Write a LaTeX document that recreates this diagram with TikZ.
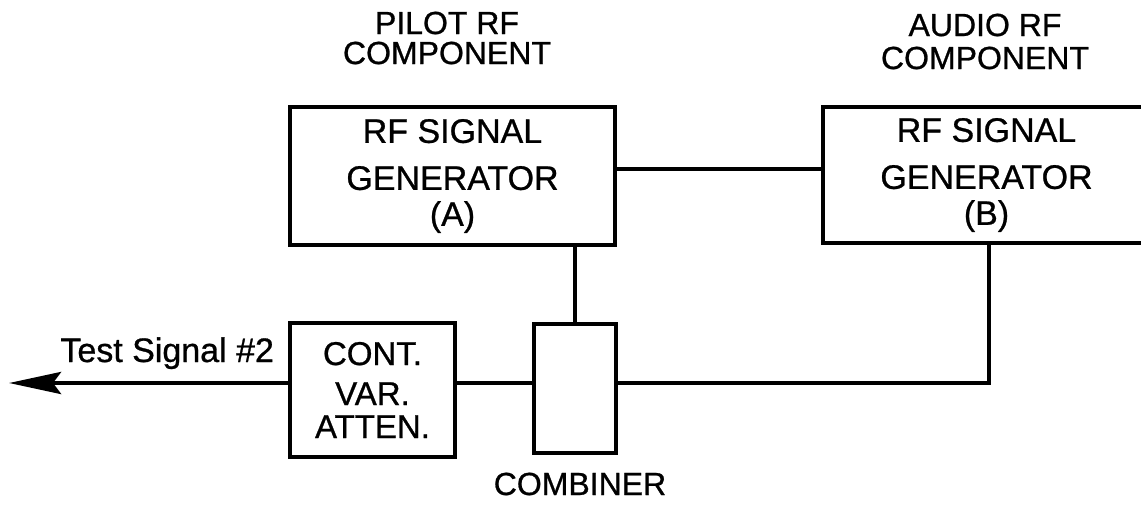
\documentclass[tikz,border=0pt]{standalone}
\usepackage{fontspec}
\setmainfont{Liberation Sans}[FakeBold=0.8]
\usetikzlibrary{arrows.meta}
\begin{document}
\begin{tikzpicture}[x=0.5pt,y=-0.5pt,
  blk/.style={draw,line width=2.3pt,inner sep=0pt,align=center,font=\fontsize{17}{18}\selectfont},
  wire/.style={line width=2.3pt},
  lbl/.style={inner sep=0pt,align=center,font=\fontsize{16}{15}\selectfont}]
\useasboundingbox (0,0) rectangle (1141,504);
% boxes
\node[blk,minimum width=162.5pt,minimum height=69pt] (A) at (452.5,176) {RF SIGNAL\\[5.5pt]GENERATOR\\(A)};
\node[blk,minimum width=163.5pt,minimum height=68pt] (B) at (986.5,175) {RF SIGNAL\\[5.5pt]GENERATOR\\(B)};
\node[blk,minimum width=82.5pt,minimum height=67pt,font=\fontsize{16.5}{16.5}\selectfont] (Att) at (372.5,390) {CONT.\\[3.5pt]VAR.\\ATTEN.};
\node[blk,minimum width=41pt,minimum height=64.5pt] (C) at (575,388.5) {};
% labels
\node[lbl] (pilot) at (447,38) {PILOT RF\\COMPONENT};
\node[lbl,font=\fontsize{16}{16.5}\selectfont] (audio) at (985,41.5) {AUDIO RF\\COMPONENT};
\node[anchor=base west,inner sep=0pt,font=\fontsize{17}{17}\selectfont] (ts) at (60,362) {Test Signal \#2};
\node[anchor=base,inner sep=0pt,font=\fontsize{16}{16}\selectfont] (comb) at (580,495) {COMBINER};
% connectors
\coordinate (tip) at (9,383);
\coordinate (corner) at (989,383);
\draw[wire] (A.east |- 0,169) -- (B.west |- 0,169);
\draw[wire] (A.south -| C.north) -- (C.north);
\draw[wire] (Att.east |- 0,383) -- (C.west |- 0,383);
\draw[wire] (C.east |- 0,383) -- (corner) -- (B.south -| corner);
\draw[wire,-{Stealth[length=26pt,width=11pt,inset=4pt]}] (Att.west |- 0,383) -- (tip);
\end{tikzpicture}
\end{document}
